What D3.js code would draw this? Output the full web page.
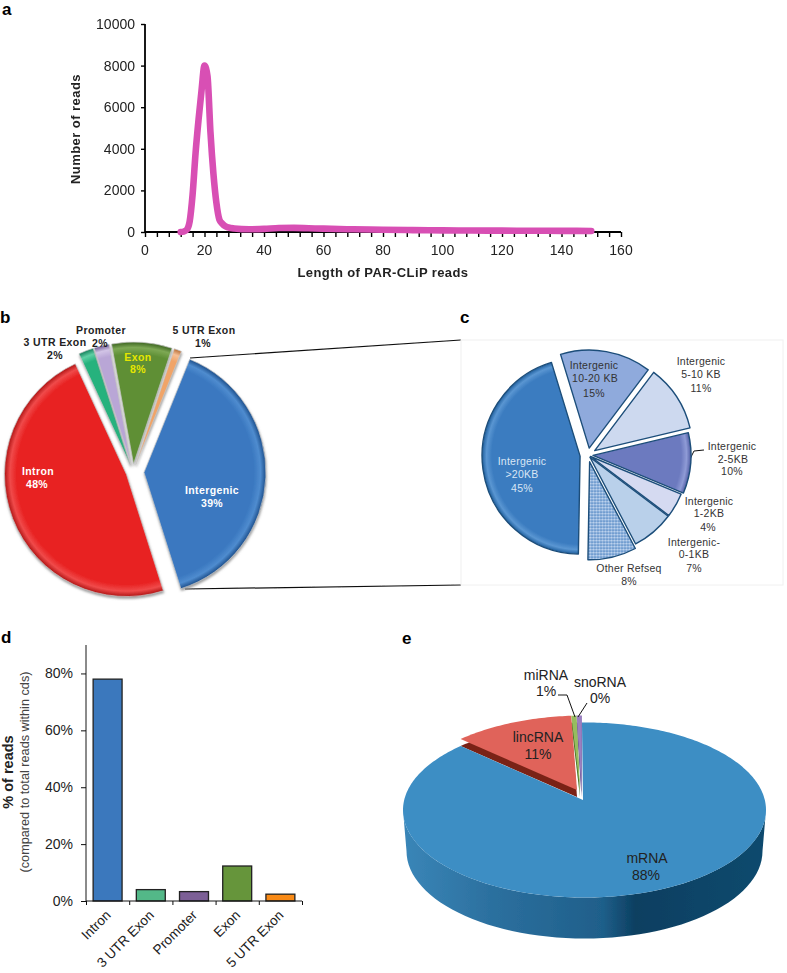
<!DOCTYPE html>
<html><head><meta charset="utf-8">
<script src="https://cdn.jsdelivr.net/npm/d3@7/dist/d3.min.js"></script>
<style>
html,body{margin:0;padding:0;background:#fff}
svg{display:block}
text{font-family:"Liberation Sans",Arial,sans-serif}
</style></head><body>
<svg id="c" width="787" height="973"></svg>
<script>
// Panel a
const readLengths=[12,13,14,15,16,17,18,19,20,21,22,23,24,25,26,27,28,30,35,40,45,50,55,60,70,80,90,100,110,120,130,140,150];
const readCounts=[0,20,100,500,1800,3800,5400,6800,8000,7500,4800,2800,1400,600,400,280,220,170,130,150,190,200,180,160,130,110,90,80,70,65,60,55,50];
// Panel b
const regionNames=["Intergenic","Intron","3 UTR Exon","Promoter","Exon","5 UTR Exon"];
const regionValues=[39,48,2,2,8,1];
const regionColors=["#3a78c0","#e82222","#25b27d","#b9a6d6","#5f8f35","#f0a468"];
const regionEdges=["#1c4f8c","#b01515","#14805a","#6f5a92","#3c6420","#b8703a"];
const regionLights=["#4f8ccf","#f04a4a","#5fd0a5","#d2c4e6","#7da854","#f6c096"];
const regionExplode=[11,7,8,8,8,8];
// Panel c
const interNames=["10-20 KB","5-10 KB","2-5KB","1-2KB","0-1KB","Other Refseq",">20KB"];
const interValues=[15,11,10,4,7,8,45];
const interColors=["#8faadc","#cdd9ef","#6c7abf","#d5daf1","#b9d0ea","url(#dots)","#3b7cc0"];
const interExplode=[7,8,5,3,3,7,8];
// Panel d
const barNames=["Intron","3 UTR Exon","Promoter","Exon","5 UTR Exon"];
const barValues=[78,4,3.3,12.3,2.4];
const barColors=["#3a78bd","#52b888","#7c5e96","#66953a","#f98a12"];
// Panel e
const rnaNames=["mRNA","lincRNA","miRNA","snoRNA"];
const rnaValues=[88.3,10.8,0.47,0.47];
const rnaColors=["#3e8ec4","#e0645a","#96bd5e","#9a7fc0"];
const rnaWalls=["#1f5f8a","#7a2318","#3f6a20","#5a4480"];
const rnaLift=[0,7,7,7];
const rnaApexShift=[0,-6,-3,-1.5];

const svg=d3.select("#c");
const defs=svg.append("defs");
function txt(x,y,s,o={}){
  const t=svg.append("text").attr("x",x).attr("y",y).text(s)
    .attr("text-anchor",o.anchor||"middle").attr("font-size",o.size||10)
    .attr("font-weight",o.weight||"normal").attr("fill",o.fill||"#111");
  if(o.ls)t.attr("letter-spacing",o.ls);
  if(o.rot!=null)t.attr("transform",`rotate(${o.rot} ${x} ${y})`);
  return t;
}
const soft=defs.append("filter").attr("id","soft").attr("x","-5%").attr("y","-5%").attr("width","110%").attr("height","110%");
soft.append("feGaussianBlur").attr("stdDeviation",0.45);
const shadow=defs.append("filter").attr("id","shadow").attr("x","-10%").attr("y","-10%").attr("width","120%").attr("height","120%");
shadow.append("feDropShadow").attr("dx",0.5).attr("dy",2).attr("stdDeviation",1).attr("flood-color","#888").attr("flood-opacity",0.8);

// panel letters
[["a",2,15],["b",0,323],["c",460,323],["d",1,643],["e",402,644]].forEach(d=>txt(d[1],d[2],d[0],{anchor:"start",size:17,weight:"bold",fill:"#000"}));

// ---------- a
{
  const x=d3.scaleLinear().domain([0,160]).range([145,621]);
  const y=d3.scaleLinear().domain([0,10000]).range([232,24]);
  const g=svg.append("g").attr("filter","url(#soft)");
  const ax=g.append("g").attr("transform","translate(0,232)").call(d3.axisBottom(x).tickValues(d3.range(0,161,4)).tickSize(5).tickFormat(""));
  ax.selectAll("line").attr("stroke","#000").attr("stroke-width",1.4);
  ax.select(".domain").attr("stroke","#000").attr("stroke-width",2.2).attr("d","M145,0H621");
  const ay=g.append("g").attr("transform","translate(145,0)").call(d3.axisLeft(y).tickValues(d3.range(0,10001,2000)).tickSize(4).tickFormat(""));
  ay.selectAll("line").attr("stroke","#000").attr("stroke-width",1.4);
  ay.select(".domain").attr("stroke","#000").attr("stroke-width",1.8).attr("d","M0,24V232");
  g.append("path").datum(readLengths.map((l,i)=>[l,readCounts[i]]))
    .attr("fill","none").attr("stroke","#d84fb4").attr("stroke-width",6.6).attr("stroke-linecap","round").attr("stroke-linejoin","round")
    .attr("d",d3.line().x(d=>x(d[0])).y(d=>y(d[1])).curve(d3.curveMonotoneX));
  d3.range(0,161,20).forEach(v=>txt(x(v),255,v,{size:14,fill:"#222"}));
  d3.range(0,10001,2000).forEach(v=>txt(135,y(v)+5,v,{anchor:"end",size:14,fill:"#222"}));
  txt(383,277,"Length of PAR-CLiP reads",{size:13,weight:"bold",fill:"#222",ls:0.4});
  txt(80,129,"Number of reads",{size:13,weight:"bold",fill:"#222",rot:-90,ls:0.45});
}

// helper for exploded, beveled pies
function arcPie(values,explode,start,cx,cy,r){
  const pie=d3.pie().sort(null).value(d=>d).startAngle(start*Math.PI/180).endAngle((start+360)*Math.PI/180)(values);
  const arc=d3.arc().innerRadius(0).outerRadius(r);
  return pie.map((p,i)=>{
    const mid=(p.startAngle+p.endAngle)/2;
    const dx=Math.sin(mid)*explode[i],dy=-Math.cos(mid)*explode[i];
    return {p,d:arc(p),i,tx:cx+dx,ty:cy+dy};
  });
}
function rimGrad(id,base,edge,r,light){
  const g=defs.append("radialGradient").attr("id",id).attr("gradientUnits","userSpaceOnUse").attr("cx",0).attr("cy",0).attr("r",r);
  g.append("stop").attr("offset",0).attr("stop-color",base);
  g.append("stop").attr("offset",0.9).attr("stop-color",base);
  g.append("stop").attr("offset",0.955).attr("stop-color",light||base);
  g.append("stop").attr("offset",1).attr("stop-color",edge);
}

// ---------- b
{
  const cx=133,cy=472,r=122;
  const g=svg.append("g").attr("filter","url(#soft)");
  g.append("line").attr("x1",190).attr("y1",358).attr("x2",461).attr("y2",340).attr("stroke","#111").attr("stroke-width",1.2);
  g.append("line").attr("x1",185).attr("y1",589).attr("x2",461).attr("y2",585).attr("stroke","#111").attr("stroke-width",1.2);
  arcPie(regionValues,regionExplode,22,cx,cy,r).forEach(s=>{
    rimGrad("b"+s.i,regionColors[s.i],regionEdges[s.i],r,regionLights[s.i]);
    g.append("path").attr("d",s.d).attr("transform",`translate(${s.tx},${s.ty})`)
      .attr("fill",`url(#b${s.i})`).attr("stroke","#c8c8c8").attr("stroke-width",0.7).attr("filter","url(#shadow)");
  });
  const bl={size:10.5,weight:"bold",fill:"#222",ls:0.4};
  const wh={size:10.5,weight:"bold",fill:"#fff",ls:0.4};
  const ye={size:10.5,weight:"bold",fill:"#e6e600",ls:0.4};
  txt(101,334,"Promoter",bl);txt(100,347,"2%",bl);
  txt(55,346,"3 UTR Exon",bl);txt(55,359,"2%",bl);
  txt(204,334,"5 UTR Exon",bl);txt(203,347,"1%",bl);
  txt(138,361,"Exon",ye);txt(138,373,"8%",ye);
  txt(38,475,"Intron",wh);txt(37,488,"48%",wh);
  txt(212,494,"Intergenic",wh);txt(212,507,"39%",wh);
}

// ---------- c
{
  const cx=588,cy=455,r=98;
  svg.append("rect").attr("x",461).attr("y",340).attr("width",322).attr("height",245).attr("fill","#fff").attr("stroke","#f0f0f0").attr("stroke-width",1);
  const p=defs.append("pattern").attr("id","dots").attr("patternUnits","userSpaceOnUse").attr("width",3).attr("height",3);
  p.append("rect").attr("width",3).attr("height",3).attr("fill","#8fb3de");
  p.append("circle").attr("cx",0.8).attr("cy",0.8).attr("r",0.7).attr("fill","#e6effa");
  p.append("circle").attr("cx",2.3).attr("cy",2.3).attr("r",0.7).attr("fill","#3f78ba");
  const g=svg.append("g").attr("filter","url(#soft)");
  g.append("line").attr("x1",694).attr("y1",451).attr("x2",704).attr("y2",450).attr("stroke","#111").attr("stroke-width",1);
  g.append("line").attr("x1",690).attr("y1",459).attr("x2",694).attr("y2",451).attr("stroke","#111").attr("stroke-width",1);
  arcPie(interValues,interExplode,-17,cx,cy,r).forEach(s=>{
    const c=interColors[s.i];
    let fill=c;
    if(s.i===6){rimGrad("c6",c,"#1f5f9e",r,"#5a96d2");fill="url(#c6)";}
    if(s.i===2){rimGrad("c2",c,"#4f5ca3",r,"#8f9bd6");fill="url(#c2)";}
    g.append("path").attr("d",s.d).attr("transform",`translate(${s.tx},${s.ty})`)
      .attr("fill",fill).attr("stroke","#1d4e7a").attr("stroke-width",1.4).attr("stroke-linejoin","round");
  });
  const o={size:10.5,fill:"#333",ls:0.25};
  const w={size:10.5,fill:"#d9e6f5",ls:0.25};
  txt(594,369,"Intergenic",o);txt(595,382,"10-20 KB",o);txt(594,397,"15%",o);
  txt(701,365,"Intergenic",o);txt(701,378,"5-10 KB",o);txt(701,392,"11%",o);
  txt(732,450,"Intergenic",o);txt(733,463,"2-5KB",o);txt(732,475,"10%",o);
  txt(709,505,"Intergenic",o);txt(709,517,"1-2KB",o);txt(708,531,"4%",o);
  txt(694,546,"Intergenic-",o);txt(694,558,"0-1KB",o);txt(694,572,"7%",o);
  txt(629,572,"Other Refseq",o);txt(629,585,"8%",o);
  txt(522,465,"Intergenic",w);txt(522,478,">20KB",w);txt(522,492,"45%",w);
}

// ---------- d
{
  const x=d3.scaleBand().domain(barNames).range([86,302]).paddingInner(0.33).paddingOuter(0.165);
  const y=d3.scaleLinear().domain([0,90]).range([901,645]);
  const g=svg.append("g").attr("filter","url(#soft)");
  g.selectAll("rect").data(barValues).join("rect")
    .attr("x",(d,i)=>x(barNames[i])).attr("width",x.bandwidth())
    .attr("y",d=>y(d)).attr("height",d=>y(0)-y(d))
    .attr("fill",(d,i)=>barColors[i]).attr("stroke","#222").attr("stroke-width",1.3);
  const ay=g.append("g").attr("transform","translate(86,0)").call(d3.axisLeft(y).tickValues([0,20,40,60,80]).tickSize(5).tickFormat(""));
  ay.selectAll("line").attr("stroke","#111").attr("stroke-width",1);
  ay.select(".domain").attr("stroke","#111").attr("stroke-width",1).attr("d","M0,645V901");
  g.append("g").attr("transform","translate(0,901)").call(d3.axisBottom(d3.scaleLinear().domain([0,5]).range([86,302])).ticks(5).tickSize(4).tickFormat(""))
    .call(a=>{a.selectAll("line").attr("stroke","#111");a.select(".domain").attr("stroke","#111").attr("d","M86,0H302");});
  [0,20,40,60,80].forEach(v=>txt(73,y(v)+5,v+"%",{anchor:"end",size:14,fill:"#222"}));
  barNames.forEach(n=>{
    txt(x(n)+x.bandwidth()/2+4,916,n,{anchor:"end",size:13.6,fill:"#222",rot:-45});
  });
  txt(13,772,"% of reads",{size:14.5,weight:"bold",fill:"#222",rot:-90});
  txt(29,772,"(compared to total reads within cds)",{size:12.7,fill:"#444",rot:-90});
}

// ---------- e
{
  const cx=584.5,cy=810,rx=181.5,ry=87.5,apexX=583,apexY=800,depth=41;
  const pie=d3.pie().sort(null).value(d=>d).startAngle(-0.8*Math.PI/180).endAngle(359.2*Math.PI/180)(rnaValues);
  const pt=(a,oy=0)=>[cx+rx*Math.sin(a),cy+oy-ry*Math.cos(a)];
  const wedge=(p,i,oy)=>{
    const n=Math.max(4,Math.ceil((p.endAngle-p.startAngle)*60));
    const pts=[[apexX+rnaApexShift[i],apexY+oy+(i?-3:0)]];
    d3.range(n+1).forEach(k=>pts.push(pt(p.startAngle+(p.endAngle-p.startAngle)*k/n,oy)));
    return d3.line()(pts)+"Z";
  };
  const grad=defs.append("linearGradient").attr("id","side").attr("gradientUnits","userSpaceOnUse").attr("x1",403).attr("x2",766).attr("y1",0).attr("y2",0);
  [[0,"#3a86b8"],[0.24,"#2c709f"],[0.55,"#1f5f8a"],[0.64,"#0c3f61"],[1,"#0d4a6e"]].forEach(s=>grad.append("stop").attr("offset",s[0]).attr("stop-color",s[1]));
  const g=svg.append("g").attr("filter","url(#soft)");
  // side wall
  const rb=178;
  const lower=d3.range(90,271,3).map(d=>d*Math.PI/180);
  const topEdge=lower.map(a=>pt(a));
  const botEdge=lower.map(a=>[cx+rb*Math.sin(a),cy+depth-ry*Math.cos(a)]).reverse();
  g.append("path").attr("d",d3.line()(topEdge.concat(botEdge))+"Z").attr("fill","url(#side)");
  // dark walls
  [1,2,3].forEach(i=>g.append("path").attr("d",wedge(pie[i],i,0)).attr("fill",rnaWalls[i]));
  // tops
  g.append("path").attr("d",wedge(pie[0],0,0)).attr("fill",rnaColors[0]);
  [1,2,3].forEach(i=>g.append("path").attr("d",wedge(pie[i],i,-rnaLift[i])).attr("fill",rnaColors[i]));
  // leaders
  const lead=d3.line();
  g.append("path").attr("d",lead([[558,695],[567,695],[575,717]])).attr("fill","none").attr("stroke","#111").attr("stroke-width",1);
  g.append("path").attr("d",lead([[587,703],[578,717]])).attr("fill","none").attr("stroke","#111").attr("stroke-width",1);
  const o={size:14,fill:"#222"};
  txt(546,680,"miRNA",o);txt(546,696,"1%",o);
  txt(600,687,"snoRNA",o);txt(600,703,"0%",o);
  txt(538,742,"lincRNA",o);txt(538,759,"11%",o);
  txt(647,863,"mRNA",o);txt(646,880,"88%",o);
}
</script>
</body></html>
